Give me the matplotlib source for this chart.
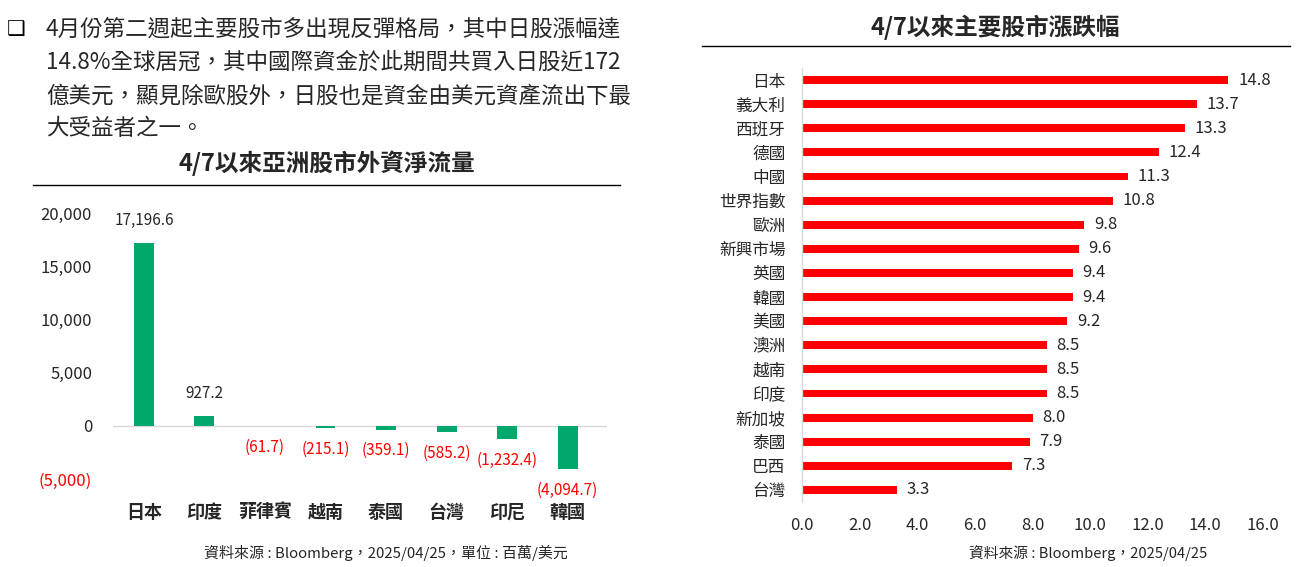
import matplotlib
matplotlib.use("Agg")
import matplotlib.pyplot as plt
from matplotlib.lines import Line2D

plt.rcParams['font.family'] = ['Noto Sans CJK TC', 'DejaVu Sans']

# ===============================
# Data
# ===============================
flow_countries = ['日本', '印度', '菲律賓', '越南', '泰國', '台灣', '印尼', '韓國']
flow_values = [17196.6, 927.2, -61.7, -215.1, -359.1, -585.2, -1232.4, -4094.7]
flow_ticks = [-5000, 0, 5000, 10000, 15000, 20000]

mkt_names = ['日本', '義大利', '西班牙', '德國', '中國', '世界指數', '歐洲', '新興市場',
             '英國', '韓國', '美國', '澳洲', '越南', '印度', '新加坡', '泰國', '巴西', '台灣']
mkt_values = [14.8, 13.7, 13.3, 12.4, 11.3, 10.8, 9.8, 9.6,
              9.4, 9.4, 9.2, 8.5, 8.5, 8.5, 8.0, 7.9, 7.3, 3.3]
mkt_ticks = [0, 2, 4, 6, 8, 10, 12, 14, 16]

bullet_lines = [
    '4月份第二週起主要股市多出現反彈格局，其中日股漲幅達',
    '14.8%全球居冠，其中國際資金於此期間共買入日股近172',
    '億美元，顯見除歐股外，日股也是資金由美元資產流出下最',
    '大受益者之一。',
]

W, H = 1298, 567
TXT = '#262626'
GREEN = '#00A86B'
RED = '#FF0000'


def fx(x):
    return x / W


def fy(y):
    return 1 - y / H


def num_fmt(v):
    if v < 0:
        return '({:,.1f})'.format(-v)
    return '{:,.1f}'.format(v)


fig = plt.figure(figsize=(W / 100, H / 100), dpi=100)

# ===============================
# Bullet text
# ===============================
fig.text(fx(16), fy(29), '❑', fontsize=15, color='black', va='center', ha='center',
         family=['DejaVu Sans'])
for i, line in enumerate(bullet_lines):
    fig.text(fx(46), fy(29 + i * 33.3), line, fontsize=16.2, color=TXT, va='center', ha='left')

# ===============================
# Left chart: foreign net flow
# ===============================
fig.text(fx(327), fy(163), '4/7以來亞洲股市外資淨流量', fontsize=17, fontweight='bold',
         color=TXT, ha='center', va='center')
fig.add_artist(Line2D([fx(33), fx(620)], [fy(185), fy(185)], color='black', lw=1))

ax1 = fig.add_axes([fx(113), fy(479), fx(607) - fx(113), fy(213) - fy(479)])
x = list(range(len(flow_countries)))
ax1.bar(x, flow_values, width=0.33, color=GREEN, zorder=2)
ax1.axhline(0, color='#D9D9D9', lw=1, zorder=1)
ax1.set_xlim(-0.51, 7.65)
ax1.set_ylim(-5000, 20000)
ax1.set_yticks(flow_ticks)
ax1.set_yticklabels(['(5,000)' if t < 0 else '{:,}'.format(t) for t in flow_ticks])
for lbl, t in zip(ax1.get_yticklabels(), flow_ticks):
    lbl.set_color(RED if t < 0 else TXT)
ax1.set_xticks(x)
ax1.set_xticklabels(flow_countries, fontweight='bold')
ax1.tick_params(axis='y', length=0, pad=15, labelsize=12, labelcolor=TXT)
for lbl, t in zip(ax1.get_yticklabels(), flow_ticks):
    lbl.set_color(RED if t < 0 else TXT)
ax1.tick_params(axis='x', length=0, pad=17, labelsize=13, labelcolor=TXT)
for s in ax1.spines.values():
    s.set_visible(False)
for xi, v in zip(x, flow_values):
    if v >= 0:
        ax1.annotate(num_fmt(v), (xi, v), xytext=(0, 10), textcoords='offset points',
                     ha='center', va='bottom', fontsize=11, color=TXT)
    else:
        ax1.annotate(num_fmt(v), (xi, v), xytext=(0, -9), textcoords='offset points',
                     ha='center', va='top', fontsize=11, color=RED)

fig.text(fx(386), fy(553), '資料來源 : Bloomberg，2025/04/25，單位 : 百萬/美元',
         fontsize=10.8, color=TXT, ha='center', va='center')

# ===============================
# Right chart: market returns
# ===============================
fig.text(fx(995), fy(27), '4/7以來主要股市漲跌幅', fontsize=17, fontweight='bold',
         color=TXT, ha='center', va='center')
fig.add_artist(Line2D([fx(702), fx(1290)], [fy(46), fy(46)], color='black', lw=1))

ax2 = fig.add_axes([fx(802), fy(502), fx(1263) - fx(802), fy(68) - fy(502)])
y = list(range(len(mkt_names)))
ax2.barh(y, mkt_values, height=0.33, color=RED, zorder=2)
ax2.set_xlim(0, 16)
ax2.set_ylim(len(mkt_names) - 0.5, -0.5)
ax2.set_xticks(mkt_ticks)
ax2.set_xticklabels(['{:.1f}'.format(t) for t in mkt_ticks])
ax2.set_yticks(y)
ax2.set_yticklabels(mkt_names)
ax2.tick_params(axis='x', length=0, pad=11, labelsize=12, labelcolor=TXT)
ax2.tick_params(axis='y', length=0, pad=12, labelsize=12, labelcolor=TXT)
for name, s in ax2.spines.items():
    if name == 'left':
        s.set_color('#D9D9D9')
        s.set_linewidth(1)
    else:
        s.set_visible(False)
for yi, v in zip(y, mkt_values):
    ax2.annotate('{:.1f}'.format(v), (v, yi), xytext=(7, 0), textcoords='offset points',
                 ha='left', va='center', fontsize=12, color=TXT)

fig.text(fx(1088), fy(553), '資料來源 : Bloomberg，2025/04/25',
         fontsize=10.6, color=TXT, ha='center', va='center')

fig.savefig('out.png', dpi=100)
